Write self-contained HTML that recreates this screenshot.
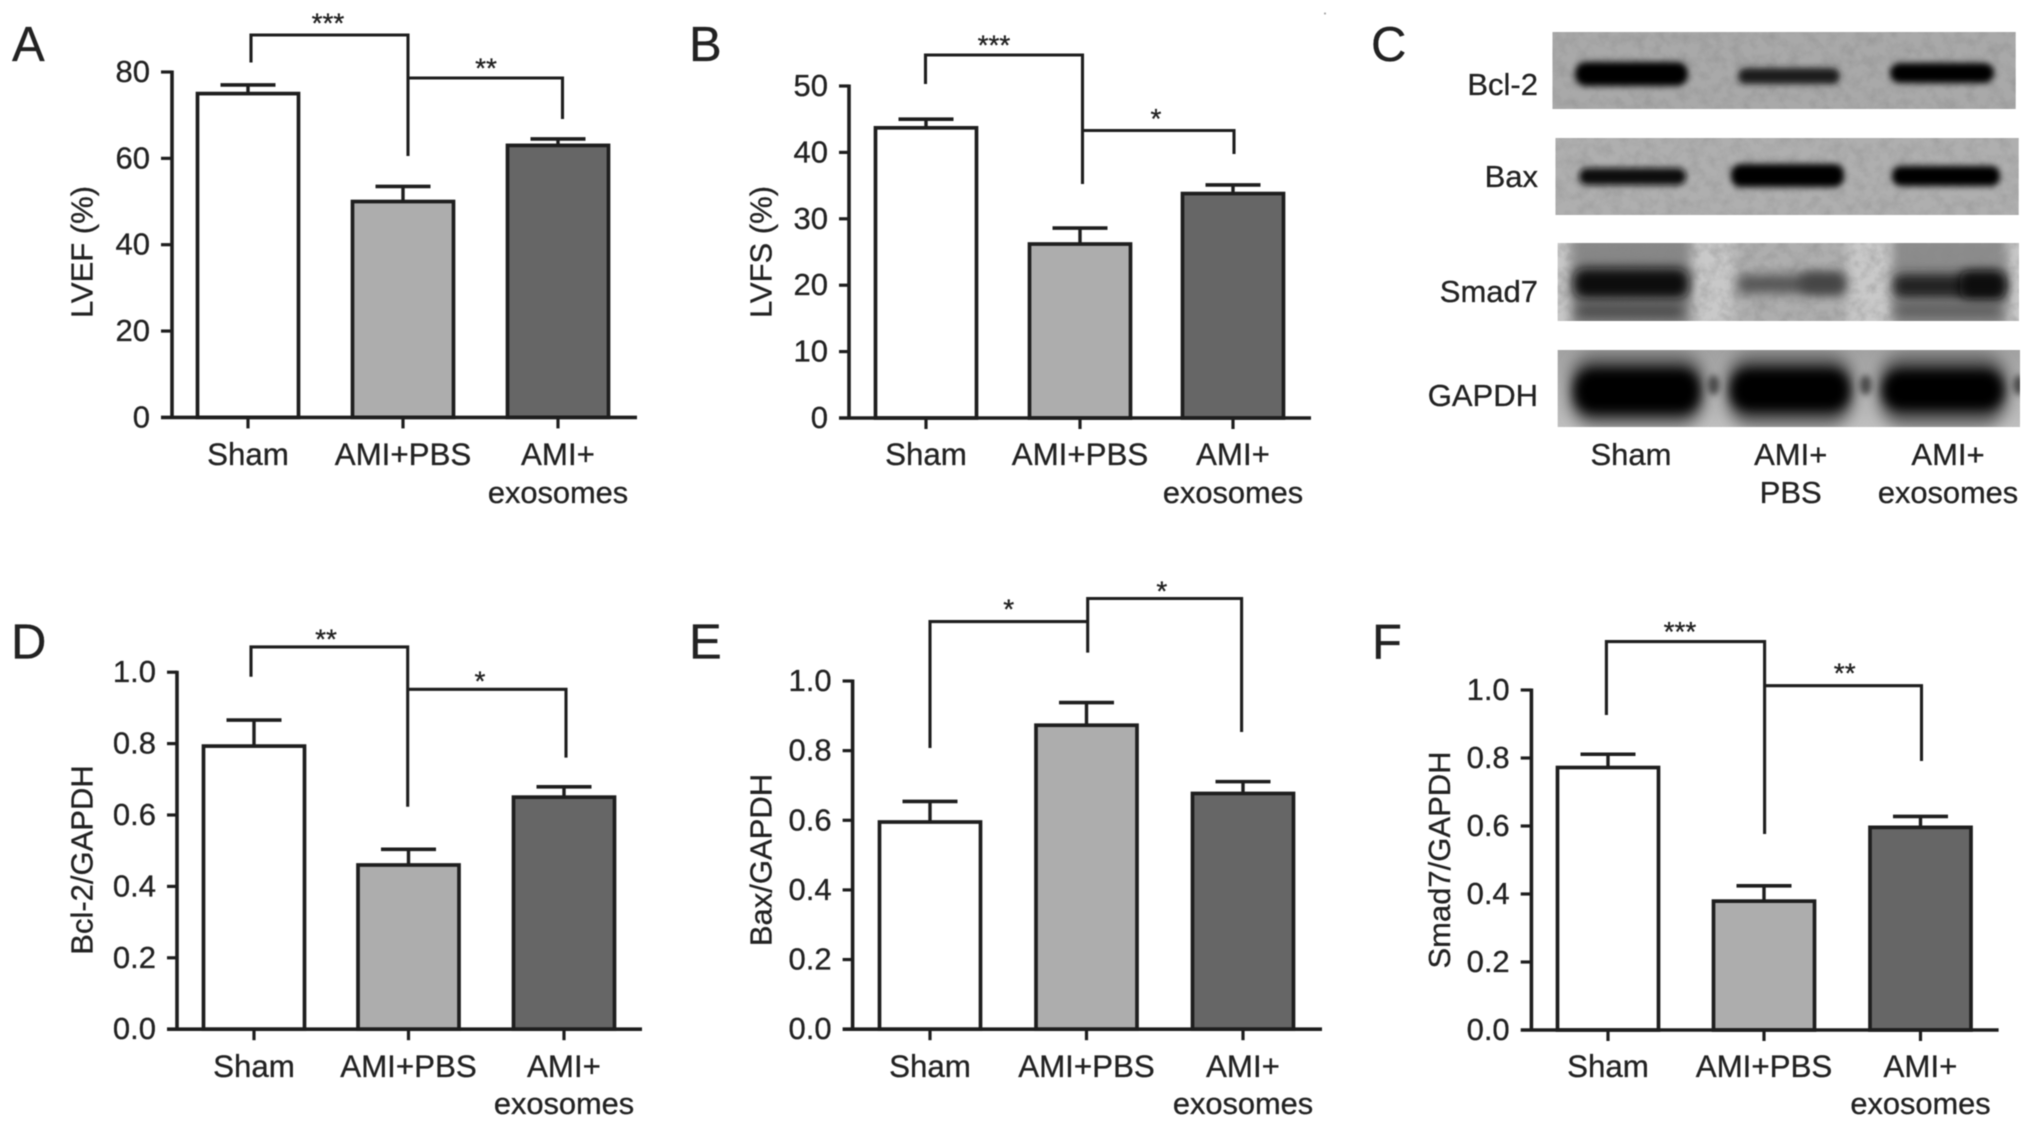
<!DOCTYPE html>
<html lang="en">
<head>
<meta charset="utf-8">
<title>Cardiac function and protein expression bar charts</title>
<style>
html,body{margin:0;padding:0;background:#fff;}
body{width:2032px;height:1128px;overflow:hidden;}
svg{display:block;filter:blur(0.55px);}
text{font-family:"Liberation Sans",sans-serif;fill:#222;stroke:#222;stroke-width:0.3px;}
</style>
</head>
<body>
<svg id="figure" xmlns="http://www.w3.org/2000/svg" width="2032" height="1128" viewBox="0 0 2032 1128">
  <defs>
    <filter id="b2" x="-30%" y="-80%" width="160%" height="260%"><feGaussianBlur stdDeviation="3.2"/></filter>
    <filter id="b4" x="-30%" y="-60%" width="160%" height="220%"><feGaussianBlur stdDeviation="5.5"/></filter>
    <filter id="b7" x="-30%" y="-60%" width="160%" height="220%"><feGaussianBlur stdDeviation="7.5"/></filter>
    <filter id="noise" x="0" y="0" width="100%" height="100%">
      <feTurbulence type="fractalNoise" baseFrequency="0.09" numOctaves="3" seed="7"/>
      <feColorMatrix type="matrix" values="0 0 0 0 0.25  0 0 0 0 0.25  0 0 0 0 0.25  1.6 0 0 0 -0.62"/>
    </filter>
    <clipPath id="c1"><rect x="1552.4" y="32" width="463.4" height="77"/></clipPath>
    <clipPath id="c2"><rect x="1555.4" y="138" width="463.4" height="77"/></clipPath>
    <clipPath id="c3"><rect x="1557.6" y="243" width="461.4" height="78"/></clipPath>
    <clipPath id="c4"><rect x="1557.6" y="350" width="462.4" height="77"/></clipPath>
    <linearGradient id="gapdhBg" x1="0" y1="0" x2="0" y2="1"><stop offset="0" stop-color="#a2a2a2"/><stop offset="1" stop-color="#c0c0c0"/></linearGradient>
  </defs>

  <rect x="0" y="0" width="2032" height="1128" fill="#fff"/>
  <circle cx="1325" cy="13.5" r="1" fill="#999"/>

  <text x="12" y="61" font-size="49">A</text>
  <text x="689" y="61" font-size="49">B</text>
  <text x="1371" y="61" font-size="49">C</text>
  <text x="11" y="658.5" font-size="49">D</text>
  <text x="689" y="658.5" font-size="49">E</text>
  <text x="1372" y="658.5" font-size="49">F</text>

  <g id="panel-c">
    <g clip-path="url(#c1)">
      <rect x="1552.4" y="32" width="463.4" height="77" fill="#a9a9a9"/>
      <rect x="1552.4" y="32" width="463.4" height="77" filter="url(#noise)" opacity="0.5"/>
      <rect x="1575" y="62" width="113" height="24" rx="11" fill="#000" filter="url(#b2)"/>
      <rect x="1738" y="68" width="102" height="16" rx="8" fill="#1c1c1c" filter="url(#b2)"/>
      <rect x="1890" y="63" width="104" height="20" rx="10" fill="#000" filter="url(#b2)"/>
    </g>
    <g clip-path="url(#c2)">
      <rect x="1555.4" y="138" width="463.4" height="77" fill="#afafaf"/>
      <rect x="1555.4" y="138" width="463.4" height="77" filter="url(#noise)" opacity="0.45"/>
      <rect x="1579" y="168" width="107" height="17" rx="8" fill="#111" filter="url(#b2)"/>
      <rect x="1731" y="164" width="113" height="23" rx="10" fill="#000" filter="url(#b2)"/>
      <rect x="1892" y="166" width="108" height="20" rx="9" fill="#000" filter="url(#b2)"/>
    </g>
    <g clip-path="url(#c3)">
      <rect x="1557.6" y="243" width="461.4" height="78" fill="#c9c9c9"/>
      <rect x="1571" y="234" width="120" height="96" fill="#878787" filter="url(#b4)"/>
      <rect x="1734" y="234" width="114" height="96" fill="#aeaeae" filter="url(#b4)"/>
      <rect x="1892" y="234" width="115" height="96" fill="#8c8c8c" filter="url(#b4)"/>
      <rect x="1557.6" y="243" width="461.4" height="78" filter="url(#noise)" opacity="0.55"/>
      <rect x="1573" y="268" width="116" height="31" rx="12" fill="#080808" filter="url(#b4)"/>
      <rect x="1576" y="304" width="108" height="14" rx="6" fill="#484848" filter="url(#b4)"/>
      <rect x="1737" y="275" width="108" height="18" rx="7" fill="#555" filter="url(#b4)"/>
      <rect x="1800" y="273" width="44" height="20" rx="7" fill="#444" filter="url(#b4)"/>
      <rect x="1893" y="274" width="112" height="24" rx="9" fill="#222" filter="url(#b4)"/>
      <rect x="1960" y="271" width="45" height="28" rx="9" fill="#0c0c0c" filter="url(#b4)"/>
      <rect x="1895" y="304" width="106" height="13" rx="6" fill="#5c5c5c" filter="url(#b4)"/>
    </g>
    <g clip-path="url(#c4)">
      <rect x="1557.6" y="350" width="462.4" height="77" fill="url(#gapdhBg)"/>
      <rect x="1570" y="354" width="134" height="72" rx="24" fill="#5c5c5c" filter="url(#b7)"/>
      <rect x="1727" y="354" width="126" height="72" rx="24" fill="#5c5c5c" filter="url(#b7)"/>
      <rect x="1879" y="354" width="128" height="72" rx="24" fill="#5c5c5c" filter="url(#b7)"/>
      <rect x="1574" y="368" width="126" height="46" rx="20" fill="#000" filter="url(#b4)"/>
      <rect x="1730" y="368" width="120" height="44" rx="20" fill="#000" filter="url(#b4)"/>
      <rect x="1882" y="369" width="122" height="42" rx="20" fill="#040404" filter="url(#b4)"/>
      <ellipse cx="1713.6" cy="385" rx="6" ry="10" fill="#4a4a4a" filter="url(#b2)"/>
      <ellipse cx="1865.7" cy="385" rx="6" ry="10" fill="#4a4a4a" filter="url(#b2)"/>
      <ellipse cx="2019" cy="385" rx="6" ry="10" fill="#4a4a4a" filter="url(#b2)"/>
    </g>
    <text x="1538" y="95" font-size="31" text-anchor="end">Bcl-2</text>
    <text x="1538" y="187" font-size="31" text-anchor="end">Bax</text>
    <text x="1538" y="302" font-size="31" text-anchor="end">Smad7</text>
    <text x="1538" y="406" font-size="31" text-anchor="end">GAPDH</text>
    <text x="1631" y="465" font-size="31" text-anchor="middle">Sham</text>
    <text x="1790.7" y="465" font-size="31" text-anchor="middle">AMI+</text>
    <text x="1790.7" y="503" font-size="31" text-anchor="middle">PBS</text>
    <text x="1948" y="465" font-size="31" text-anchor="middle">AMI+</text>
    <text x="1948" y="503" font-size="30.8" text-anchor="middle">exosomes</text>
  </g>
</svg>

<script>
// Chart data
const categories = [['Sham'], ['AMI+PBS'], ['AMI+', 'exosomes']];

const lvefTicks = ['0', '20', '40', '60', '80'];
const lvefValues = [75, 50, 63];
const lvefErrors = [2, 3.5, 1.5];

const lvfsTicks = ['0', '10', '20', '30', '40', '50'];
const lvfsValues = [43.7, 26.2, 33.8];
const lvfsErrors = [1.3, 2.4, 1.3];

const bcl2Ticks = ['0.0', '0.2', '0.4', '0.6', '0.8', '1.0'];
const bcl2Values = [0.793, 0.46, 0.65];
const bcl2Errors = [0.073, 0.044, 0.029];

const baxTicks = ['0.0', '0.2', '0.4', '0.6', '0.8', '1.0'];
const baxValues = [0.595, 0.873, 0.677];
const baxErrors = [0.059, 0.065, 0.034];

const smad7Ticks = ['0.0', '0.2', '0.4', '0.6', '0.8', '1.0'];
const smad7Values = [0.772, 0.379, 0.596];
const smad7Errors = [0.039, 0.045, 0.032];

const barFills = ['#ffffff', '#adadad', '#666666'];

// Layout of each plot (pixels), separate from the data
const plots = [
  { id: 'lvef', title: 'LVEF (%)', ticks: lvefTicks, values: lvefValues, errors: lvefErrors,
    axisX: 172, leftX: 161, rightX: 637, base: 417.4, top: 72, centers: [248, 403, 558], titleX: 82, titleY: 252, labelY: [465, 503],
    brackets: [[[251, 62.5], [251, 35], [408, 35], [408, 156]], [[408, 78], [562.5, 78], [562.5, 119]]],
    stars: [['***', 328, 16.5], ['**', 486, 61.5]] },
  { id: 'lvfs', title: 'LVFS (%)', ticks: lvfsTicks, values: lvfsValues, errors: lvfsErrors,
    axisX: 849, leftX: 839, rightX: 1311, base: 418, top: 86, centers: [926, 1080, 1233], titleX: 761, titleY: 252, labelY: [465, 503],
    brackets: [[[925.5, 84], [925.5, 55], [1082.5, 55], [1082.5, 184]], [[1082.5, 130.5], [1234, 130.5], [1234, 154]]],
    stars: [['***', 994, 38.5], ['*', 1156, 112]] },
  { id: 'bcl-2', title: 'Bcl-2/GAPDH', ticks: bcl2Ticks, values: bcl2Values, errors: bcl2Errors,
    axisX: 177, leftX: 167, rightX: 642, base: 1029.2, top: 672.2, centers: [254, 408.5, 564], titleX: 82, titleY: 860, labelY: [1077, 1114],
    brackets: [[[251, 676.8], [251, 646.9], [407.7, 646.9], [407.7, 806.7]], [[407.7, 689.3], [566, 689.3], [566, 757.6]]],
    stars: [['**', 326, 632.5], ['*', 480, 674.5]] },
  { id: 'bax', title: 'Bax/GAPDH', ticks: baxTicks, values: baxValues, errors: baxErrors,
    axisX: 852.6, leftX: 842.6, rightX: 1322, base: 1029.2, top: 681, centers: [930, 1086.5, 1243], titleX: 761, titleY: 860, labelY: [1077, 1114],
    brackets: [[[930, 748], [930, 621.6], [1087.7, 621.6]], [[1087.7, 652.6], [1087.7, 598.5], [1241.6, 598.5], [1241.6, 732]]],
    stars: [['*', 1008.7, 602.5], ['*', 1161.8, 584.5]] },
  { id: 'smad7', title: 'Smad7/GAPDH', ticks: smad7Ticks, values: smad7Values, errors: smad7Errors,
    axisX: 1531.4, leftX: 1520.7, rightX: 1998.6, base: 1030, top: 690, centers: [1608, 1764, 1920.5], titleX: 1439.3, titleY: 860, labelY: [1077, 1114],
    brackets: [[[1606.4, 715], [1606.4, 641.6], [1764.6, 641.6], [1764.6, 834]], [[1764.6, 685.7], [1921.5, 685.7], [1921.5, 761]]],
    stars: [['***', 1680, 625], ['**', 1844.7, 666.5]] }
];

const SVG_NS = 'http://www.w3.org/2000/svg';
const figure = document.getElementById('figure');
const INK = '#1e1e1e';

function make(parent, tag, props) {
  const node = document.createElementNS(SVG_NS, tag);
  for (const key in props) node.setAttribute(key, props[key]);
  parent.appendChild(node);
  return node;
}

plots.forEach(function (p) {
  const maxTick = parseFloat(p.ticks[p.ticks.length - 1]);
  const yScale = function (v) { return p.base - (v / maxTick) * (p.base - p.top); };

  const group = make(figure, 'g', {});
  
  

  // Error bars and bars
  p.values.forEach(function (value, i) {
    const cx = p.centers[i];
    const errTop = yScale(value + p.errors[i]);
    const stem = make(group, 'line', { x1: cx, x2: cx, y1: errTop, y2: yScale(value), stroke: INK, 'stroke-width': 3.4 });
    
    
    const cap = make(group, 'line', { x1: cx - 27.5, x2: cx + 27.5, y1: errTop, y2: errTop, stroke: INK, 'stroke-width': 3.6 });
    
    
    const bar = make(group, 'rect', { x: cx - 50.5, y: yScale(value), width: 101, height: p.base - yScale(value), fill: barFills[i], stroke: INK, 'stroke-width': 3.7 });
    
    
  });

  // Axes
  const yAxis = make(group, 'line', { x1: p.axisX, x2: p.axisX, y1: yScale(maxTick) - 1.5, y2: p.base, stroke: INK, 'stroke-width': 3.6 });
  
  
  const xAxis = make(group, 'line', { x1: p.leftX, x2: p.rightX, y1: p.base, y2: p.base, stroke: INK, 'stroke-width': 3.6 });
  
  

  p.ticks.forEach(function (label) {
    const v = parseFloat(label);
    const ty = yScale(v);
    if (v !== 0) {
      const tick = make(group, 'line', { x1: p.leftX, x2: p.axisX, y1: ty, y2: ty, stroke: INK, 'stroke-width': 3.2 });
      
      
    }
    const text = make(group, 'text', { x: p.leftX - 11, y: ty + 10, 'font-size': 31, 'text-anchor': 'end' });
    
    
    text.textContent = label;
  });

  // Category ticks and labels
  categories.forEach(function (lines, i) {
    const cx = p.centers[i];
    const tick = make(group, 'line', { x1: cx, x2: cx, y1: p.base, y2: p.base + 11, stroke: INK, 'stroke-width': 3.2 });
    
    
    lines.forEach(function (line, j) {
      const text = make(group, 'text', { x: cx, y: p.labelY[j], 'font-size': j === 1 ? 30.8 : 31.3, 'text-anchor': 'middle' });
      
      
      text.textContent = line;
    });
  });

  // Y title
  const title = make(group, 'text', { x: p.titleX, y: p.titleY, 'font-size': 31, 'text-anchor': 'middle', 'dominant-baseline': 'central', transform: 'rotate(-90 ' + p.titleX + ' ' + p.titleY + ')' });
  
  
  title.textContent = p.title;

  // Significance brackets and stars
  p.brackets.forEach(function (points) {
    const line = make(group, 'polyline', { points: points.map(function (q) { return q.join(','); }).join(' '), fill: 'none', stroke: INK, 'stroke-width': 3.1 });
    
    
  });
  p.stars.forEach(function (star) {
    const text = make(group, 'text', { x: star[1], y: star[2] + 16, 'font-size': 28, 'text-anchor': 'middle' });
    
    
    text.textContent = star[0];
  });
});
</script>
</body>
</html>
